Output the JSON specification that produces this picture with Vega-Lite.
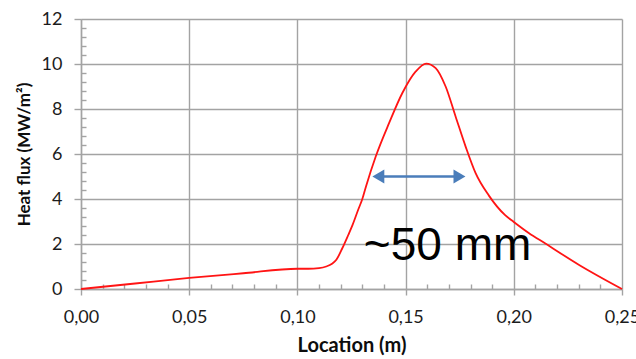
{
  "$schema": "https://vega.github.io/schema/vega-lite/v6.json",
  "width": 541,
  "height": 270,
  "autosize": {"type": "none"},
  "padding": {"left": 81, "top": 19, "right": 14, "bottom": 70},
  "background": "white",
  "config": {
    "view": {"stroke": null},
    "axis": {
      "labelFont": "Lato",
      "titleFont": "Lato",
      "labelColor": "#1c1c1c",
      "titleColor": "#0d0d0d",
      "gridColor": "#a3a3a3",
      "gridWidth": 1.4,
      "domainColor": "#a3a3a3",
      "domainWidth": 1.4,
      "tickColor": "#a3a3a3",
      "tickWidth": 1.4
    }
  },
  "datasets": {
    "curve": [
      {"x": 0.0, "y": 0.0},
      {"x": 0.025, "y": 0.245},
      {"x": 0.05, "y": 0.49},
      {"x": 0.075, "y": 0.7},
      {"x": 0.1, "y": 0.9},
      {"x": 0.105, "y": 0.9},
      {"x": 0.11, "y": 0.93},
      {"x": 0.1133, "y": 1.0},
      {"x": 0.116, "y": 1.12},
      {"x": 0.118, "y": 1.3},
      {"x": 0.1207, "y": 1.8},
      {"x": 0.1235, "y": 2.4},
      {"x": 0.1255, "y": 2.85},
      {"x": 0.128, "y": 3.5},
      {"x": 0.13, "y": 4.0},
      {"x": 0.1317, "y": 4.56},
      {"x": 0.1362, "y": 5.89},
      {"x": 0.1424, "y": 7.38},
      {"x": 0.1485, "y": 8.71},
      {"x": 0.1547, "y": 9.67},
      {"x": 0.1595, "y": 10.02},
      {"x": 0.1639, "y": 9.82},
      {"x": 0.1685, "y": 9.0},
      {"x": 0.1731, "y": 7.67},
      {"x": 0.1777, "y": 6.34},
      {"x": 0.1823, "y": 5.16},
      {"x": 0.1885, "y": 4.15},
      {"x": 0.196, "y": 3.28},
      {"x": 0.2, "y": 2.98},
      {"x": 0.2069, "y": 2.49},
      {"x": 0.2146, "y": 2.02},
      {"x": 0.23, "y": 1.08},
      {"x": 0.25, "y": 0.0}
    ],
    "arrow": [{"x1": 0.137, "x2": 0.175, "y": 5.0}],
    "heads": [
      {"x": 0.1374, "y": 5.0, "shape": "triangle-left"},
      {"x": 0.1749, "y": 5.0, "shape": "triangle-right"}
    ],
    "note": [{"x": 0.1694, "y": 1.3, "label": "~50 mm"}]
  },
  "layer": [
    {
      "data": {"name": "curve"},
      "mark": {"type": "line", "color": "#ff1414", "strokeWidth": 1.8, "interpolate": "monotone"},
      "encoding": {
        "x": {
          "field": "x", "type": "quantitative",
          "scale": {"domain": [0, 0.25], "nice": false, "zero": false},
          "axis": {
            "values": [0, 0.01, 0.02, 0.03, 0.04, 0.05, 0.06, 0.07, 0.08, 0.09, 0.1, 0.11, 0.12, 0.13, 0.14, 0.15, 0.16, 0.17, 0.18, 0.19, 0.2, 0.21, 0.22, 0.23, 0.24, 0.25],
            "tickCount": 200,
            "labelExpr": "abs(datum.value * 20 - round(datum.value * 20)) < 0.001 ? replace(format(datum.value, '.2f'), '.', ',') : ''",
            "tickSize": {"condition": {"test": "abs(datum.value * 20 - round(datum.value * 20)) < 0.001", "value": 6}, "value": -5},
            "gridOpacity": {"condition": {"test": "abs(datum.value * 20 - round(datum.value * 20)) < 0.001", "value": 1}, "value": 0},
            "labelFontSize": 18,
            "labelPadding": 13,
            "title": "Location (m)",
            "titleFontSize": 20,
            "titleFontWeight": "bold",
            "titlePadding": 9,
            "labelFlush": false,
            "labelOverlap": false
          }
        },
        "y": {
          "field": "y", "type": "quantitative",
          "scale": {"domain": [0, 12], "nice": false},
          "axis": {
            "values": [0, 0.4, 0.8, 1.2, 1.6, 2, 2.4, 2.8, 3.2, 3.6, 4, 4.4, 4.8, 5.2, 5.6, 6, 6.4, 6.8, 7.2, 7.6, 8, 8.4, 8.8, 9.2, 9.6, 10, 10.4, 10.8, 11.2, 11.6, 12],
            "tickCount": 200,
            "labelExpr": "abs(datum.value / 2 - round(datum.value / 2)) < 0.001 ? format(datum.value, 'd') : ''",
            "tickSize": {"condition": {"test": "abs(datum.value / 2 - round(datum.value / 2)) < 0.001", "value": 7}, "value": -5},
            "gridOpacity": {"condition": {"test": "abs(datum.value / 2 - round(datum.value / 2)) < 0.001", "value": 1}, "value": 0},
            "labelFontSize": 18,
            "labelPadding": 12,
            "labelOverlap": false,
            "title": "Heat flux (MW/m²)",
            "titleFontSize": 17,
            "titleFontWeight": "bold",
            "titlePadding": 8
          }
        }
      }
    },
    {
      "data": {"name": "arrow"},
      "mark": {"type": "rule", "color": "#4a7dba", "strokeWidth": 2.5},
      "encoding": {
        "x": {"field": "x1", "type": "quantitative"},
        "x2": {"field": "x2"},
        "y": {"field": "y", "type": "quantitative"}
      }
    },
    {
      "data": {"name": "heads"},
      "mark": {"type": "point", "filled": true, "color": "#4a7dba", "opacity": 1, "size": 190},
      "encoding": {
        "x": {"field": "x", "type": "quantitative"},
        "y": {"field": "y", "type": "quantitative"},
        "shape": {"field": "shape", "type": "nominal", "scale": null}
      }
    },
    {
      "data": {"name": "note"},
      "mark": {"type": "text", "font": "Liberation Sans", "fontSize": 46, "color": "#000000", "align": "center", "baseline": "alphabetic"},
      "encoding": {
        "x": {"field": "x", "type": "quantitative"},
        "y": {"field": "y", "type": "quantitative"},
        "text": {"field": "label"}
      }
    }
  ]
}
